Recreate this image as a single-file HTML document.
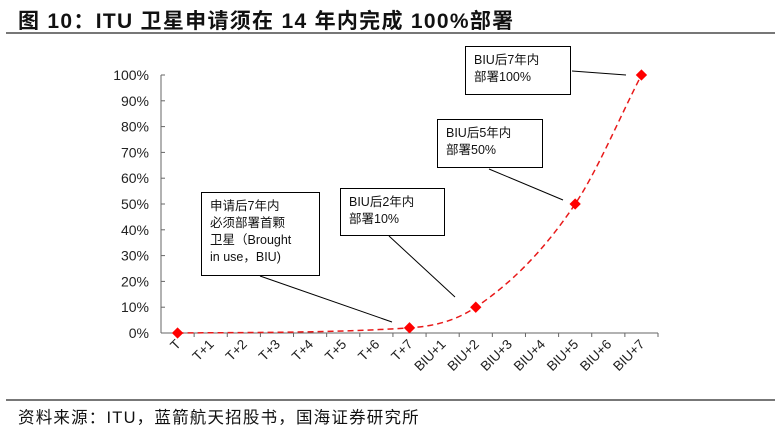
<!DOCTYPE html>
<html><head><meta charset="utf-8">
<style>
html,body{margin:0;padding:0;background:#fff;}
body{width:781px;height:435px;position:relative;overflow:hidden;font-family:"Liberation Sans","Noto Sans CJK SC",sans-serif;}
#title{position:absolute;left:18px;top:5px;font-size:21px;font-weight:bold;color:#111;letter-spacing:1.3px;}
#hr1{position:absolute;left:6px;top:32px;width:769px;height:2px;background:#777;}
#hr2{position:absolute;left:6px;top:399px;width:769px;height:2px;background:#777;}
#src{position:absolute;left:18px;top:404px;font-size:16.5px;color:#111;letter-spacing:1.2px;}
.box{position:absolute;border:1px solid #000;background:#fff;font-size:12.5px;line-height:17px;color:#111;padding:5px 8px;box-sizing:border-box;}
</style></head><body>
<div id="title">图 10：ITU 卫星申请须在 14 年内完成 100%部署</div>
<div id="hr1"></div>
<svg id="chart" width="781" height="435" style="position:absolute;left:0;top:0"></svg>
<div class="box" style="left:201px;top:192px;width:119px;height:84px;">申请后7年内<br>必须部署首颗<br>卫星（Brought<br>in use，BIU)</div>
<div class="box" style="left:340px;top:188px;width:105px;height:48px;">BIU后2年内<br>部署10%</div>
<div class="box" style="left:437px;top:119px;width:106px;height:49px;">BIU后5年内<br>部署50%</div>
<div class="box" style="left:465px;top:46px;width:106px;height:49px;">BIU后7年内<br>部署100%</div>
<div id="hr2"></div>
<div id="src">资料来源：ITU，蓝箭航天招股书，国海证券研究所</div>
<script>
const categories=["T","T+1","T+2","T+3","T+4","T+5","T+6","T+7","BIU+1","BIU+2","BIU+3","BIU+4","BIU+5","BIU+6","BIU+7"];
const values=[0,null,null,null,null,null,null,0.02,null,0.10,null,null,0.50,null,1.00];
const yTicks=[0,0.1,0.2,0.3,0.4,0.5,0.6,0.7,0.8,0.9,1.0];
const yTickLabels=["0%","10%","20%","30%","40%","50%","60%","70%","80%","90%","100%"];
const NS="http://www.w3.org/2000/svg";
const svg=document.getElementById('chart');
const x0=161,x1=658,y0=333,y1=75;
const step=(x1-x0)/categories.length;
const xs=i=>x0+step*(i+0.5);
const ys=v=>y0-(y0-y1)*v;
function mk(t,a){const e=document.createElementNS(NS,t);for(const k in a)e.setAttribute(k,a[k]);svg.appendChild(e);return e;}
let e=mk('line',{x1:x0,y1:y0,x2:x0,y2:y1,stroke:'#666','stroke-width':1});

e=mk('line',{x1:x0,y1:y0,x2:x1,y2:y0,stroke:'#666','stroke-width':1});

yTicks.forEach((v,i)=>{
  mk('line',{x1:x0,y1:ys(v),x2:x0+4,y2:ys(v),stroke:'#666'});
  const t=mk('text',{x:149,y:ys(v)+5,'text-anchor':'end','font-size':14,fill:'#222','font-family':'Liberation Sans,sans-serif'});
  t.textContent=yTickLabels[i];
  
});
categories.forEach((c,i)=>{
  const xt=x0+step*(i+1);
  mk('line',{x1:xt,y1:y0,x2:xt,y2:y0+4,stroke:'#666'});
  const cx=xs(i)+4,cy=y0+12;
  const t=mk('text',{x:cx,y:cy,'text-anchor':'end','font-size':13.5,fill:'#222','font-family':'Liberation Sans,sans-serif',transform:`rotate(-45 ${cx} ${cy})`});
  t.textContent=c;
  
});
const pts=[];values.forEach((v,i)=>{if(v!==null)pts.push([xs(i),ys(v)]);});
// monotone cubic (Fritsch-Carlson)
const n=pts.length,dl=[],m=[];
for(let i=0;i<n-1;i++)dl.push((pts[i+1][1]-pts[i][1])/(pts[i+1][0]-pts[i][0]));
m[0]=dl[0];m[n-1]=dl[n-2];
for(let i=1;i<n-1;i++){m[i]=(dl[i-1]*dl[i]<=0)?0:(dl[i-1]+dl[i])/2;}
for(let i=0;i<n-1;i++){if(dl[i]===0){m[i]=0;m[i+1]=0;continue;}const a=m[i]/dl[i],b=m[i+1]/dl[i],s=a*a+b*b;if(s>9){const t=3/Math.sqrt(s);m[i]=t*a*dl[i];m[i+1]=t*b*dl[i];}}
let d=`M${pts[0][0]},${pts[0][1]}`;
for(let i=0;i<n-1;i++){
  const h=(pts[i+1][0]-pts[i][0])/3;
  d+=` C${pts[i][0]+h},${pts[i][1]+m[i]*h} ${pts[i+1][0]-h},${pts[i+1][1]-m[i+1]*h} ${pts[i+1][0]},${pts[i+1][1]}`;
}
e=mk('path',{d:d,fill:'none',stroke:'#e81a1a','stroke-width':1.5,'stroke-dasharray':'6,4'});

pts.forEach(p=>{
  const q=mk('rect',{x:p[0]-4,y:p[1]-4,width:8,height:8,fill:'#f00',transform:`rotate(45 ${p[0]} ${p[1]})`});
  
});
[[260,276,392,322],[389,236,455,297],[489,169,563,200],[572,71,626,75]].forEach(l=>{
  const c=mk('line',{x1:l[0],y1:l[1],x2:l[2],y2:l[3],stroke:'#000','stroke-width':1});
  
});
</script>
</body></html>
